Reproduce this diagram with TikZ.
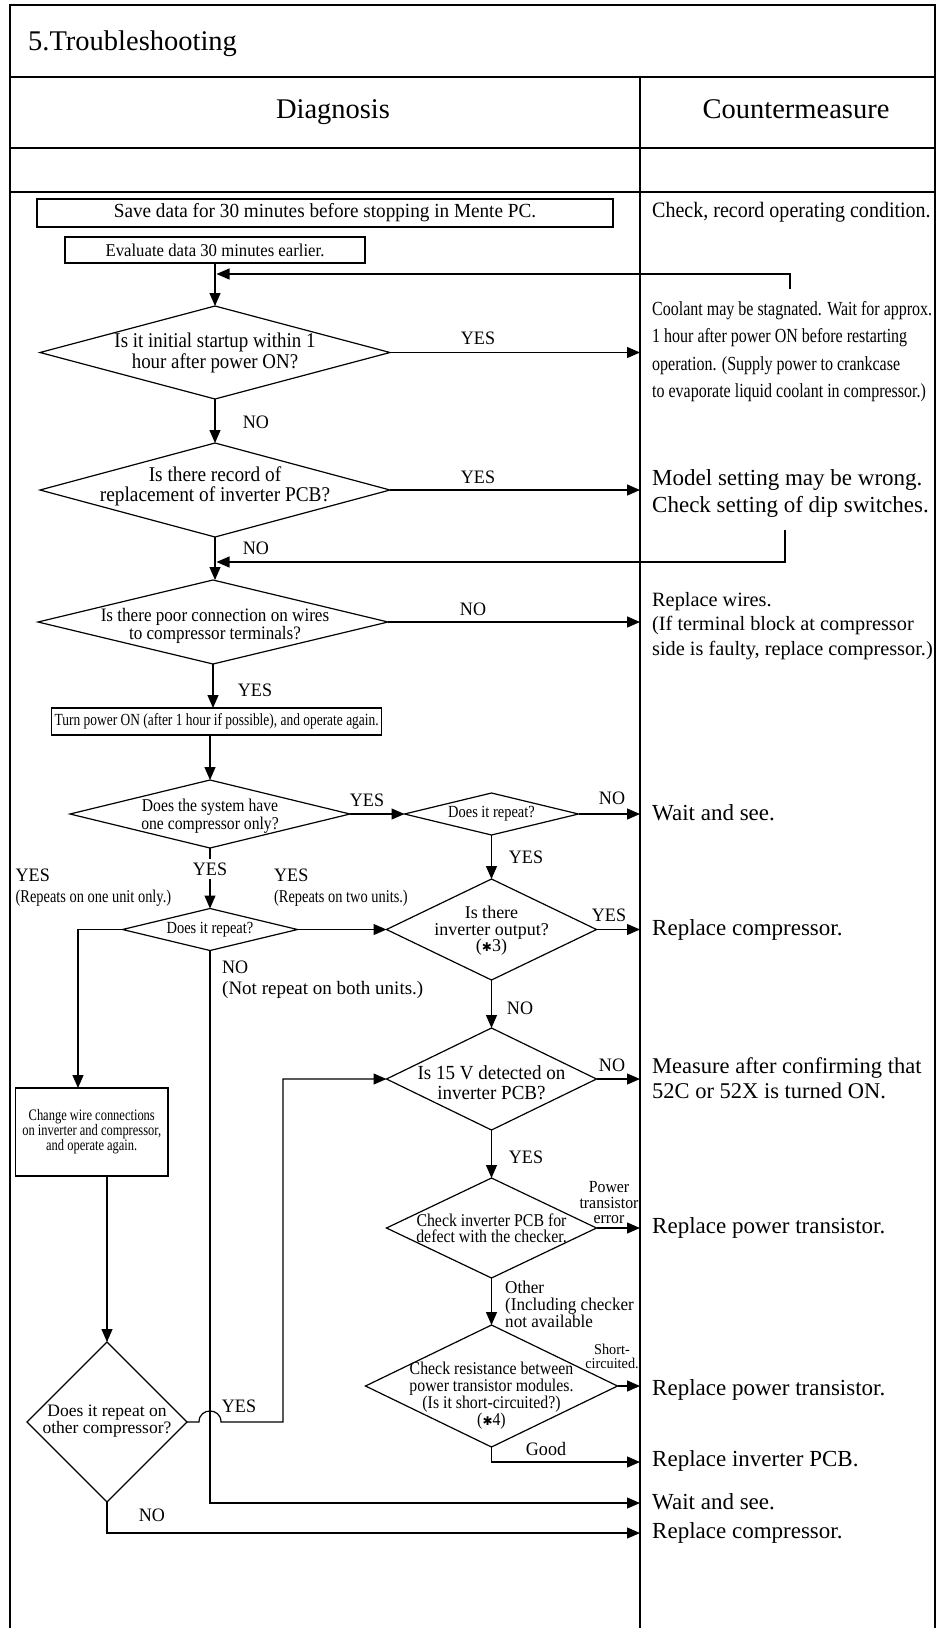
\documentclass[tikz,border=0pt]{standalone}
\usepackage{fontspec}
\setmainfont{Liberation Serif}
\newfontfamily\symfnt{DejaVu Sans}
\usetikzlibrary{shapes.geometric,arrows.meta,calc}
% size, baselineskip, horizontal stretch
\newcommand{\fsz}[3]{\fontsize{#1}{#2}\selectfont\addfontfeature{FakeStretch=#3}}
\newcommand{\hast}{{\symfnt\fontsize{12}{12}\selectfont ✱}}
\begin{document}
\begin{tikzpicture}[x=1pt,y=-1pt,
  frame/.style={line width=1.5pt},
  flow/.style={line width=1.2pt},
  arr/.style={flow,-{Triangle[length=13pt,width=11pt]}},
  box/.style={draw,flow,rectangle,inner sep=0pt,outer sep=0pt,align=center},
  dia/.style={draw,flow,diamond,inner sep=0pt,outer sep=0pt},
  dtxt/.style={inner sep=0pt,align=center},
  lbl/.style={inner sep=0pt,font={\fsz{19}{19}{0.95}}},
  ans/.style={inner sep=0pt,anchor=west,align=left,font={\fsz{23}{27}{1}}},
]
\useasboundingbox (0,0) rectangle (938,1628);

% table frame
\draw[frame] (10,1628) -- (10,5) -- (935,5) -- (935,1628);
\draw[frame] (10,77) -- (935,77);
\draw[frame] (10,148) -- (935,148);
\draw[frame] (10,192) -- (935,192);
\draw[frame] (640,77) -- (640,1628);
\coordinate (div) at (640,0);

% headings
\node[anchor=base west,inner sep=0pt,font={\fsz{28.5}{28.5}{1}}] (title) at (28,50) {5.Troubleshooting};
\node[anchor=base,inner sep=0pt,font={\fsz{28.5}{28.5}{1}}] (hdiag) at (333,118) {Diagnosis};
\node[anchor=base,inner sep=0pt,font={\fsz{28.5}{28.5}{1}}] (hcm) at (796,118) {Countermeasure};

% process boxes
\node[box,minimum width=576pt,minimum height=28pt,font={\fsz{20}{20}{0.96}}] (save) at (325,213) {Save data for 30 minutes before stopping in Mente PC.};
\node[box,minimum width=300pt,minimum height=26pt,font={\fsz{18}{18}{0.93}}] (eval) at (215,250) {Evaluate data 30 minutes earlier.};
\node[box,minimum width=330pt,minimum height=27pt,font={\fsz{17}{17}{0.79}}] (turn) at (216.7,721.5) {Turn power ON (after 1 hour if possible), and operate again.};
\node[box,minimum width=152.5pt,minimum height=88pt,font={\fsz{16}{15}{0.78}}] (change) at (91.75,1132) {Change wire connections\\on inverter and compressor,\\and operate again.};

% decisions
\node[dia,minimum width=350pt,minimum height=93pt] (d1) at (215,352.5) {};
\node[dtxt,font={\fsz{21}{21}{0.9}}] (d1t) at (215,352.5) {Is it initial startup within 1\\hour after power ON?};
\node[dia,minimum width=350pt,minimum height=94pt] (d2) at (215,490) {};
\node[dtxt,font={\fsz{21}{20}{0.92}}] (d2t) at (215,486) {Is there record of\\replacement of inverter PCB?};
\node[dia,minimum width=350pt,minimum height=84pt] (d3) at (213,622) {};
\node[dtxt,font={\fsz{19}{18}{0.9}}] (d3t) at (215,626) {Is there poor connection on wires\\to compressor terminals?};
\node[dia,minimum width=280pt,minimum height=68pt] (d4) at (210,814) {};
\node[dtxt,font={\fsz{18}{16}{0.87}}] (d4t) at (210,816) {Does the system have\\one compressor only?};
\node[dia,minimum width=174pt,minimum height=42pt] (d5) at (491.5,814) {};
\node[dtxt,font={\fsz{17}{17}{0.85}}] (d5t) at (491.5,814) {Does it repeat?};
\node[dia,minimum width=210pt,minimum height=101pt] (d6) at (491.5,929.5) {};
\node[dtxt,font={\fsz{18}{16.5}{1}}] (d6t) at (491.5,931) {Is there\\inverter output?\\(\hast3)};
\node[dia,minimum width=175pt,minimum height=42pt] (d8) at (210,929.5) {};
\node[dtxt,font={\fsz{17}{17}{0.85}}] (d8t) at (210,929.5) {Does it repeat?};
\node[dia,minimum width=210pt,minimum height=102pt] (d7) at (491.5,1079) {};
\node[dtxt,font={\fsz{20}{20}{0.95}}] (d7t) at (491.5,1083) {Is 15 V detected on\\inverter PCB?};
\node[dia,minimum width=210pt,minimum height=100pt] (d10) at (491.5,1228) {};
\node[dtxt,font={\fsz{18}{16}{0.88}}] (d10t) at (491.5,1228) {Check inverter PCB for\\defect with the checker.};
\node[dia,minimum width=252pt,minimum height=122pt] (d11) at (491.5,1386) {};
\node[dtxt,font={\fsz{18}{17}{0.88}}] (d11t) at (491.5,1396) {Check resistance between\\power transistor modules.\\(Is it short-circuited?)\\(\hast4)};
\node[dia,minimum width=160pt,minimum height=160pt] (d9) at (107,1422) {};
\node[dtxt,font={\fsz{17.5}{14.5}{1}}] (d9t) at (107,1421) {Does it repeat on\\other compressor?};

% countermeasures
\node[ans,font={\fsz{22}{22}{0.91}}] (r0) at (652,212) {Check, record operating condition.};
\node[ans,font={\fsz{20}{27.5}{0.8}}] (r1) at (652,351.5) {Coolant may be stagnated. Wait for approx.\\1 hour after power ON before restarting\\operation. (Supply power to crankcase\\to evaporate liquid coolant in compressor.)};
\node[ans] (r2) at (652,493.5) {Model setting may be wrong.\\Check setting of dip switches.};
\node[ans,font={\fsz{20.3}{24.5}{1}}] (r3) at (652,626) {Replace wires.\\(If terminal block at compressor\\side is faulty, replace compressor.)};
\node[ans] (r4) at (652,813) {Wait and see.};
\node[ans] (r5) at (652,930) {Replace compressor.};
\node[ans,font={\fsz{22.5}{25}{1}}] (r6) at (652,1078) {Measure after confirming that\\52C or 52X is turned ON.};
\node[ans] (r7) at (652,1228) {Replace power transistor.};
\node[ans] (r8) at (652,1390) {Replace power transistor.};
\node[ans] (r9) at (652,1461) {Replace inverter PCB.};
\node[ans] (r10) at (652,1502) {Wait and see.};
\node[ans] (r11) at (652,1533) {Replace compressor.};

% helper coordinates for routed lines
\coordinate (fb1s) at (790,289);
\coordinate (fb1e) at (216.5,274);
\coordinate (fb2s) at (785,530);
\coordinate (fb2e) at (216.5,562);
\coordinate (xL) at (78,0);
\coordinate (xY) at (283,0);
\coordinate (wy) at (0,1503);
\coordinate (cy) at (0,1533);
\coordinate (gy) at (0,1462);
\coordinate (hop) at (d8.south |- d9.east);

% connectors
\draw[arr] (eval.south) -- (d1.north);
\draw[arr] (fb1s) |- (fb1e);
\draw[arr] (d1.east) -- (d1.east -| div);
\draw[arr] (d1.south) -- (d2.north);
\draw[arr] (d2.east) -- (d2.east -| div);
\draw[arr] (d2.south) -- (d2.south |- d3.north);
\draw[arr] (fb2s) |- (fb2e);
\draw[arr] (d3.east) -- (d3.east -| div);
\draw[arr] (d3.south) -- (d3.south |- turn.north);
\draw[arr] (d4.north |- turn.south) -- (d4.north);
\draw[arr] (d4.east) -- (d5.west);
\draw[arr] (d5.east) -- (d5.east -| div);
\draw[arr] (d5.south) -- (d6.north);
\draw[arr] (d4.south) -- (d8.north);
\draw[arr] (d8.east) -- (d6.west);
\draw[arr] (d6.east) -- (d6.east -| div);
\draw[arr] (d6.south) -- (d7.north);
\draw[arr] (d8.west) -| (xL |- change.north);
\draw[arr] (d8.south) |- (div |- wy);
\draw[arr] (d9.north |- change.south) -- (d9.north);
\draw[arr] (d9.east) -- ($(hop)+(-11,0)$)
  .. controls ($(hop)+(-11,-14.7)$) and ($(hop)+(11,-14.7)$) .. ($(hop)+(11,0)$)
  -- (xY |- d9.east) |- (d7.west);
\draw[arr] (d9.south) |- (div |- cy);
\draw[arr] (d7.east) -- (d7.east -| div);
\draw[arr] (d7.south) -- (d10.north);
\draw[arr] (d10.east) -- (d10.east -| div);
\draw[arr] (d10.south) -- (d11.north);
\draw[arr] (d11.east) -- (d11.east -| div);
\draw[arr] (d11.south) |- (div |- gy);

% branch labels
\node[lbl] (yes1) at (478,338) {YES};
\node[lbl] (no1) at (256,422) {NO};
\node[lbl] (yes2) at (478,477) {YES};
\node[lbl] (no2) at (256,548) {NO};
\node[lbl] (no3) at (473,609) {NO};
\node[lbl] (yes3) at (255,690) {YES};
\node[lbl] (yes4) at (367,800) {YES};
\node[lbl] (no4) at (612,798) {NO};
\node[lbl] (yes5) at (526,857) {YES};
\node[lbl,fill=white,inner sep=4pt] (yes6) at (210,869) {YES};
\node[lbl] (yes7) at (609,915) {YES};
\node[lbl] (no5) at (520,1008) {NO};
\node[lbl] (no6) at (612,1065) {NO};
\node[lbl] (yes8) at (526,1157) {YES};
\node[lbl] (yes9) at (239,1406) {YES};
\node[lbl] (no7) at (152,1515) {NO};
\node[lbl,anchor=west] (yesL) at (15.5,875) {YES};
\node[anchor=west,inner sep=0pt,font={\fsz{18}{18}{0.8}}] (repL) at (15.5,898) {(Repeats on one unit only.)};
\node[lbl,anchor=west] (yesR) at (274,875) {YES};
\node[anchor=west,inner sep=0pt,font={\fsz{18}{18}{0.8}}] (repR) at (274,898) {(Repeats on two units.)};
\node[lbl,anchor=west] (noM) at (222,967) {NO};
\node[anchor=west,inner sep=0pt,font={\fsz{19}{19}{1}}] (notrep) at (222,990) {(Not repeat on both units.)};
\node[inner sep=0pt,align=center,font={\fsz{17}{15.5}{0.93}}] (pte) at (609,1203) {Power\\transistor\\error};
\node[inner sep=0pt,anchor=west,align=left,font={\fsz{18}{17}{0.95}}] (other) at (505,1304) {Other\\(Including checker\\not available};
\node[inner sep=0pt,align=center,font={\fsz{15}{14}{0.95}}] (shc) at (612,1356) {Short-\\circuited.};
\node[lbl] (good) at (546,1449) {Good};
\end{tikzpicture}
\end{document}
